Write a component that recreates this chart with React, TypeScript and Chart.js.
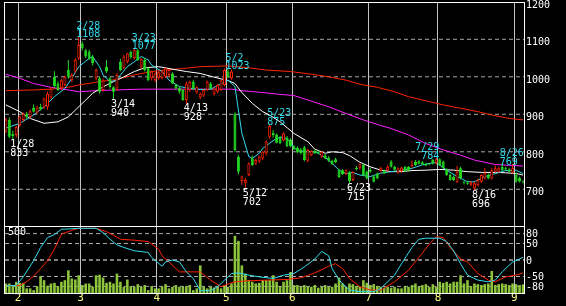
import React, { useEffect, useRef } from 'react';
import { Chart, registerables } from 'chart.js';

Chart.register(...registerables);

const FONT = "'DejaVu Sans Mono', monospace";

// ---- categories: trading days ----
const monthNumbers = [1, 2, 3, 4, 5, 6, 7, 8, 9];
const tradingDaysByMonth = [
  [26, 27, 28, 31],
  [1, 2, 3, 4, 7, 8, 9, 10, 14, 15, 16, 17, 18, 21, 22, 24, 25, 28],
  [1, 2, 3, 4, 7, 8, 9, 10, 11, 14, 15, 16, 17, 18, 22, 23, 24, 25, 28, 29, 30, 31],
  [1, 4, 5, 6, 7, 8, 11, 12, 13, 14, 15, 18, 19, 20, 21, 22, 25, 26, 27, 28],
  [2, 6, 9, 10, 11, 12, 13, 16, 17, 18, 19, 20, 23, 24, 25, 26, 27, 30, 31],
  [1, 2, 3, 6, 7, 8, 9, 10, 13, 14, 15, 16, 17, 20, 21, 22, 23, 24, 27, 28, 29, 30],
  [1, 4, 5, 6, 7, 8, 11, 12, 13, 14, 15, 19, 20, 21, 22, 25, 26, 27, 28, 29],
  [1, 2, 3, 4, 5, 8, 9, 10, 12, 15, 16, 17, 18, 19, 22, 23, 24, 25, 26, 29, 30, 31],
  [1, 2, 5],
];

// ---- OHLC ----
const opens = [854, 885, 848, 845, 871, 885, 900, 893, 918, 905, 920, 918, 920, 945, 1000, 982, 969, 978, 1018, 991, 1014, 1049,
  1089, 1071, 1067, 1054, 996, 996, 965, 1027, 996, 972, 969, 1040, 1023, 1040, 1067, 1050, 1071, 1027, 1045, 1023, 996, 991,
  996, 996, 1000, 1005, 1009, 978, 970, 965, 938, 965, 987, 958, 945, 950, 965, 982, 955, 960, 965, 978,
  1014, 996, 902, 787, 722, 716, 738, 782, 768, 774, 782, 796, 840, 850, 846, 838, 831, 838, 833,
  815, 811, 806, 812, 776, 791, 802, 800, 787, 791, 785, 776, 780, 751, 751, 741, 745, 725, 756, 756, 765, 747,
  752, 735, 742, 748, 750, 750, 774, 760, 745, 748, 760, 760, 762, 773, 775, 772, 768, 768, 778, 770,
  780, 774, 753, 738, 733, 720, 756, 718, 717, 712, 702, 711, 720, 729, 738, 729, 747, 747, 760, 756, 753, 745,
  738, 730, 720];
const highs = [890, 892, 856, 870, 896, 905, 906, 912, 926, 922, 928, 945, 960, 972, 1015, 988, 995, 1003, 1045, 1010, 1050, 1108,
  1095, 1075, 1072, 1058, 1022, 1000, 995, 1045, 1000, 975, 1010, 1048, 1058, 1064, 1070, 1077, 1074, 1050, 1050, 1026, 1016, 1012,
  1015, 1016, 1025, 1020, 1012, 982, 974, 968, 987, 990, 992, 975, 958, 968, 990, 986, 972, 980, 993, 1022,
  1023, 1020, 905, 792, 736, 730, 772, 790, 782, 790, 802, 831, 875, 858, 849, 842, 852, 842, 836,
  818, 815, 810, 816, 808, 804, 806, 804, 802, 794, 789, 779, 784, 755, 754, 753, 748, 748, 762, 769, 768, 750,
  758, 738, 745, 760, 753, 765, 778, 763, 758, 760, 763, 762, 776, 778, 778, 775, 771, 770, 781, 784,
  783, 777, 756, 742, 737, 762, 760, 722, 722, 722, 720, 728, 740, 757, 742, 756, 764, 760, 769, 760, 757, 768,
  745, 734, 724];
const lows = [850, 836, 833, 838, 866, 880, 888, 888, 905, 900, 910, 915, 912, 940, 970, 962, 965, 975, 995, 985, 1010, 1045,
  1070, 1050, 1045, 1030, 990, 955, 960, 1010, 968, 940, 962, 1015, 1020, 1036, 1048, 1046, 1042, 1022, 1015, 988, 990, 986,
  992, 993, 997, 1000, 980, 966, 955, 936, 928, 960, 965, 955, 940, 946, 962, 966, 950, 956, 962, 975,
  996, 992, 800, 740, 712, 702, 735, 762, 765, 770, 778, 790, 835, 838, 822, 820, 828, 812, 812,
  805, 796, 793, 775, 772, 788, 794, 795, 784, 780, 773, 765, 770, 730, 738, 738, 715, 722, 750, 752, 735, 726,
  744, 718, 727, 745, 740, 747, 758, 750, 742, 745, 746, 748, 758, 762, 766, 765, 762, 764, 766, 766,
  763, 755, 736, 723, 722, 717, 727, 713, 712, 708, 696, 708, 717, 726, 727, 726, 744, 744, 749, 751, 745, 742,
  718, 718, 716];
const closes = [886, 840, 842, 867, 894, 902, 893, 908, 907, 918, 914, 942, 955, 968, 975, 965, 991, 1000, 1000, 1005, 1045, 1085,
  1076, 1054, 1049, 1036, 1018, 960, 991, 1014, 972, 960, 1005, 1018, 1054, 1062, 1052, 1071, 1045, 1047, 1018, 991, 1014, 1009,
  1012, 1014, 1023, 1018, 982, 969, 960, 938, 982, 987, 969, 972, 955, 965, 987, 969, 969, 978, 991, 1018,
  998, 1014, 805, 747, 734, 725, 769, 765, 778, 787, 800, 827, 869, 845, 824, 822, 849, 815, 815,
  807, 798, 796, 778, 805, 802, 796, 797, 800, 782, 776, 767, 773, 733, 740, 751, 722, 746, 754, 767, 738, 729,
  747, 720, 729, 756, 742, 760, 760, 752, 756, 758, 748, 750, 765, 765, 768, 767, 763, 766, 769, 780,
  765, 756, 738, 725, 725, 747, 729, 716, 715, 718, 716, 725, 738, 744, 729, 751, 756, 756, 751, 753, 747, 756,
  720, 721, 718];

// ---- volume (x1000) ----
const volumes = [72, 72, 52, 85, 77, 77, 35, 35, 22, 52, 127, 97, 55, 72, 77, 52, 85, 97, 172, 110, 102, 134,
  60, 72, 72, 47, 134, 139, 117, 77, 85, 72, 147, 85, 47, 102, 52, 47, 67, 47, 60, 22, 52, 35,
  35, 47, 67, 35, 47, 60, 47, 47, 52, 60, 22, 35, 209, 47, 35, 47, 42, 47, 35, 60,
  47, 72, 433, 395, 209, 147, 97, 85, 72, 77, 97, 97, 97, 134, 85, 47, 85, 97, 159,
  60, 60, 47, 60, 47, 47, 60, 40, 47, 60, 47, 47, 72, 117, 72, 47, 72, 67, 52, 47, 97, 77,
  60, 67, 52, 47, 40, 47, 40, 47, 35, 35, 52, 47, 60, 72, 47, 60, 67, 47, 67, 47,
  85, 77, 85, 72, 85, 85, 134, 72, 97, 52, 72, 67, 60, 67, 72, 167, 60, 67, 72, 67, 60, 72,
  67, 60, 65];

// ---- moving averages: [day index, value] ----
const maShort: [number, number][] = [[0, 863], [4, 876], [8, 898], [11, 920], [14, 947], [17, 969], [19, 996], [21, 1027], [24, 1049], [25, 1054], [27, 1027], [28, 1005], [30, 987], [32, 991], [33, 1005], [35, 1027], [37, 1040], [39, 1054], [41, 1045], [42, 1031], [45, 1014], [47, 991], [50, 974], [53, 969], [56, 966], [59, 967], [64, 991], [66, 974], [67, 911], [68, 849], [70, 787], [71, 782], [73, 796], [74, 809], [76, 823], [78, 836], [80, 840], [82, 827], [83, 809], [86, 800], [89, 800], [91, 791], [93, 778], [96, 751], [98, 742], [100, 745], [102, 738], [105, 734], [108, 743], [111, 747], [114, 751], [117, 756], [120, 765], [122, 769], [124, 771], [127, 751], [130, 734], [133, 720], [135, 720], [138, 734], [141, 742], [144, 750], [147, 751], [149, 742]];
const maMid: [number, number][] = [[0, 925], [4, 907], [7, 889], [11, 876], [15, 880], [18, 893], [20, 911], [23, 938], [25, 956], [28, 973], [31, 987], [34, 1000], [37, 1014], [40, 1024], [44, 1027], [47, 1022], [52, 1014], [56, 1009], [60, 999], [64, 990], [66, 982], [68, 958], [71, 929], [74, 907], [76, 898], [79, 880], [83, 849], [87, 827], [89, 807], [92, 796], [94, 800], [97, 798], [99, 790], [102, 772], [105, 760], [108, 751], [111, 747], [114, 747], [117, 750], [121, 751], [125, 753], [129, 751], [133, 747], [137, 745], [141, 745], [144, 744], [147, 742], [149, 738]];
const maLong: [number, number][] = [[0, 1007], [4, 996], [8, 982], [13, 972], [18, 965], [21, 960], [26, 963], [32, 965], [39, 967], [46, 967], [56, 967], [65, 967], [68, 963], [74, 958], [79, 953], [83, 950], [88, 935], [93, 920], [98, 902], [103, 885], [107, 873], [111, 862], [116, 845], [121, 822], [126, 805], [131, 791], [135, 778], [138, 772], [141, 766], [145, 764], [149, 762]];
const maVeryLong: [number, number][] = [[0, 963], [8, 965], [13, 967], [18, 972], [21, 978], [27, 987], [32, 993], [37, 1005], [42, 1014], [46, 1018], [51, 1022], [56, 1027], [64, 1029], [70, 1024], [75, 1018], [82, 1014], [88, 1007], [93, 1000], [98, 991], [102, 980], [107, 972], [112, 960], [116, 947], [121, 936], [126, 925], [131, 916], [136, 907], [140, 898], [145, 889], [149, 885]];

// ---- oscillator (RCI) ----
const rciShort: [number, number][] = [[0, -78], [3, -77], [5, -51], [8, -2], [10, 38], [12, 68], [14, 77], [16, 93], [21, 96], [26, 96], [28, 83], [30, 63], [32, 46], [34, 38], [37, 28], [41, 23], [42, 8], [45, -19], [46, -6], [48, 0], [50, -6], [52, -36], [54, -56], [56, -93], [59, -93], [61, -81], [63, -61], [65, -41], [67, -39], [70, -46], [73, -51], [77, -56], [80, -46], [83, -41], [86, -21], [89, 3], [91, 26], [93, 13], [94, -26], [96, -61], [99, -91], [102, -96], [106, -96], [108, -86], [112, -46], [114, -11], [117, 38], [119, 63], [121, 66], [125, 66], [127, 56], [129, 28], [131, -11], [133, -46], [136, -61], [139, -66], [141, -61], [143, -36], [146, -6], [149, 8]];
const rciLong: [number, number][] = [[0, -77], [4, -77], [6, -66], [8, -49], [10, -26], [12, -2], [14, 33], [16, 78], [18, 86], [19, 90], [21, 96], [26, 96], [29, 86], [31, 75], [33, 63], [37, 60], [41, 56], [44, 33], [45, 13], [47, -6], [50, -36], [56, -36], [59, -61], [62, -81], [64, -73], [66, -66], [70, -63], [75, -61], [81, -59], [85, -54], [89, -39], [93, -19], [95, -11], [97, -26], [99, -56], [102, -81], [105, -91], [108, -91], [112, -66], [116, -31], [119, 8], [122, 48], [124, 71], [126, 68], [128, 38], [131, 3], [133, -6], [136, -41], [139, -61], [141, -66], [144, -51], [147, -46], [149, -39]];

// ---- annotations ----
const highDates = ['2/28', '3/23', '5/2', '5/23', '7/29', '8/26'];
const highValues = [1108, 1077, 1023, 875, 784, 769];
const lowDates = ['1/28', '3/14', '4/13', '5/12', '6/23', '8/16'];
const lowValues = [833, 940, 928, 702, 715, 696];

// ---- axis ticks ----
const priceTicks = [700, 800, 900, 1000, 1100, 1200];
const rciTicks = [-80, -50, 0, 50, 80];
const volumeTopLabel = '500';

// derived
const dates: string[] = [];
tradingDaysByMonth.forEach((days, m) => days.forEach((d) => dates.push(`${monthNumbers[m]}/${d}`)));
const monthStartIdx: number[] = [];
const monthTickLabels: string[] = [];
{
  let k = 0;
  tradingDaysByMonth.forEach((days, m) => {
    if (m > 0) {
      monthStartIdx.push(k);
      monthTickLabels.push(String(monthNumbers[m]));
    }
    k += days.length;
  });
}

const RED = '#ff2200';
const GREEN = '#22d822';
const CYAN = '#33dcee';
const GRID = '#a8a8a8';
const VGRID = '#c4c4c4';

const X_MIN = -0.25;
const X_MAX = 149.28;
const P_MIN = 602.1;
const P_MAX = 1196.8;

const toXY = (arr: [number, number][]) => arr.map(([x, y]) => ({ x, y }));
const isUp = (i: number) => closes[i] >= opens[i];

function xScale(showLabels: boolean, height: number) {
  return {
    type: 'linear' as const,
    min: X_MIN,
    max: X_MAX,
    offset: false,
    bounds: 'data' as const,
    afterBuildTicks: (s: any) => {
      s.ticks = monthStartIdx.map((i) => ({ value: i - 0.5 }));
    },
    afterFit: (s: any) => {
      s.height = height;
      s.paddingLeft = 0;
      s.paddingRight = 0;
      s.paddingTop = 0;
      s.paddingBottom = 0;
    },
    ticks: {
      display: showLabels,
      autoSkip: false,
      maxRotation: 0,
      color: '#ffff80',
      padding: 0,
      font: { family: FONT, size: 11, lineHeight: 1 },
      callback: (_v: any, idx: number) => monthTickLabels[idx],
    },
    grid: { color: VGRID, lineWidth: 1, drawTicks: false, offset: false },
    border: { display: false },
  };
}

function yAxisBase(ticksList: number[], labelOffset: number) {
  return {
    type: 'linear' as const,
    position: 'right' as const,
    bounds: 'data' as const,
    afterBuildTicks: (s: any) => {
      s.ticks = ticksList.map((v) => ({ value: v }));
    },
    afterFit: (s: any) => {
      s.width = 42;
      s.paddingTop = 0;
      s.paddingBottom = 0;
      s.paddingLeft = 0;
      s.paddingRight = 0;
    },
    ticks: {
      color: '#ffffff',
      padding: 2,
      autoSkip: false,
      labelOffset,
      font: { family: FONT, size: 10 },
      callback: (v: any) => String(v),
    },
    grid: { display: false, drawTicks: false },
    border: { display: false },
  };
}

// horizontal dashed reference line drawn by the library itself
const refLine = (v: number, color: string) => ({
  type: 'line' as const,
  data: [
    { x: X_MIN, y: v },
    { x: X_MAX, y: v },
  ],
  borderColor: color,
  borderWidth: 1,
  borderDash: [4, 3],
  pointRadius: 0,
  fill: false,
  order: 20,
  yAxisID: 'y',
});

const makeFramePlugin = (id: string) => ({
  id,
  afterDraw(chart: any) {
    const { ctx, chartArea: a } = chart;
    ctx.save();
    ctx.strokeStyle = '#ffffff';
    ctx.lineWidth = 1;
    ctx.setLineDash([]);
    ctx.strokeRect(a.left - 0.5, a.top - 0.5, a.right - a.left + 1, a.bottom - a.top + 1);
    ctx.restore();
  },
});

const extremesPlugin = {
  id: 'extremes',
  afterDatasetsDraw(chart: any) {
    const { ctx } = chart;
    const xs = chart.scales.x;
    const ys = chart.scales.y;
    ctx.save();
    ctx.font = `10px ${FONT}`;
    ctx.textBaseline = 'alphabetic';
    highDates.forEach((d, k) => {
      const i = dates.indexOf(d);
      const px = xs.getPixelForValue(i);
      const py = ys.getPixelForValue(highValues[k]);
      const right = px > 420 && px < 440;
      ctx.textAlign = right ? 'right' : 'left';
      const tx = right ? px + 3 : px - 2.5;
      ctx.fillStyle = CYAN;
      ctx.fillText(d, tx, py - 7.3);
      ctx.fillText(String(highValues[k]), tx, py + 1.2);
    });
    lowDates.forEach((d, k) => {
      const i = dates.indexOf(d);
      const px = xs.getPixelForValue(i);
      const py = ys.getPixelForValue(lowValues[k]);
      ctx.textAlign = 'left';
      ctx.fillStyle = '#ffffff';
      ctx.fillText(d, px - 2.5, py + 7.5);
      ctx.fillText(String(lowValues[k]), px - 2.5, py + 16.6);
    });
    ctx.restore();
  },
};

const volLabelPlugin = {
  id: 'volLabel',
  afterDraw(chart: any) {
    const { ctx, chartArea: a } = chart;
    ctx.save();
    ctx.font = `10px ${FONT}`;
    ctx.fillStyle = '#ffffff';
    ctx.textAlign = 'left';
    ctx.textBaseline = 'alphabetic';
    ctx.fillText(volumeTopLabel, a.left + 3, a.top + 8);
    ctx.restore();
  },
};

const lineDs = (data: [number, number][], color: string, order: number, yAxisID = 'y') => ({
  type: 'line' as const,
  data: toXY(data),
  borderColor: color,
  borderWidth: 1,
  pointRadius: 0,
  tension: 0,
  fill: false,
  order,
  yAxisID,
});

export default function App() {
  const mainRef = useRef<HTMLCanvasElement>(null);
  const subRef = useRef<HTMLCanvasElement>(null);

  useEffect(() => {
    document.documentElement.style.background = '#000';
    document.body.style.margin = '0';
    document.body.style.background = '#000';

    const idx = dates.map((_, i) => i);

    const main = new Chart(mainRef.current as HTMLCanvasElement, {
      type: 'bar',
      data: {
        datasets: [
          {
            type: 'bar',
            data: idx.map((i) => ({ x: i, y: [opens[i], closes[i]] })) as any,
            backgroundColor: (c: any) => (isUp(c.dataIndex) ? '#000000' : GREEN),
            borderColor: (c: any) => (isUp(c.dataIndex) ? RED : GREEN),
            borderWidth: 1,
            borderSkipped: false,
            barThickness: 3,
            minBarLength: 1,
            grouped: false,
            inflateAmount: 0,
            order: 0,
          } as any,
          {
            type: 'bar',
            data: idx.map((i) => ({ x: i, y: [lows[i], highs[i]] })) as any,
            backgroundColor: (c: any) => (isUp(c.dataIndex) ? RED : GREEN),
            borderWidth: 0,
            barThickness: 1,
            grouped: false,
            inflateAmount: 0,
            order: 1,
          } as any,
          lineDs(maShort, CYAN, 2),
          lineDs(maMid, '#ffffff', 3),
          lineDs(maLong, '#ff20ff', 4),
          lineDs(maVeryLong, RED, 5),
          ...priceTicks.filter((v) => v > P_MIN && v < P_MAX).map((v) => refLine(v, GRID)),
        ] as any,
      },
      options: {
        responsive: false,
        animation: false,
        devicePixelRatio: 1,
        events: [],
        layout: { padding: { left: 5, top: 3, right: 0, bottom: 0 } },
        plugins: { legend: { display: false }, tooltip: { enabled: false } },
        scales: {
          x: xScale(false, 0) as any,
          y: { ...yAxisBase(priceTicks, 3.5), min: P_MIN, max: P_MAX } as any,
        },
      },
      plugins: [makeFramePlugin('mainFrame'), extremesPlugin],
    });

    const sub = new Chart(subRef.current as HTMLCanvasElement, {
      type: 'bar',
      data: {
        datasets: [
          {
            type: 'bar',
            data: idx.map((i) => ({ x: i, y: volumes[i] })) as any,
            backgroundColor: '#8cc43c',
            borderWidth: 0,
            barThickness: 2.6,
            grouped: false,
            inflateAmount: 0,
            yAxisID: 'yv',
            order: 3,
          } as any,
          lineDs(rciLong, RED, 2),
          lineDs(rciShort, CYAN, 1),
          ...rciTicks.map((v) => refLine(v, v === 0 ? '#ffffff' : GRID)),
        ] as any,
      },
      options: {
        responsive: false,
        animation: false,
        devicePixelRatio: 1,
        events: [],
        layout: { padding: { left: 5, top: 1, right: 0, bottom: 0 } },
        plugins: { legend: { display: false }, tooltip: { enabled: false } },
        scales: {
          x: xScale(true, 13) as any,
          y: { ...yAxisBase(rciTicks, 1), min: -100, max: 100 } as any,
          yv: { type: 'linear', display: false, min: 0, max: 500 } as any,
        },
      },
      plugins: [makeFramePlugin('subFrame'), volLabelPlugin],
    });

    return () => {
      main.destroy();
      sub.destroy();
    };
  }, []);

  return (
    <div style={{ position: 'fixed', left: 0, top: 0, width: 566, height: 306, background: '#000' }}>
      <canvas
        ref={mainRef}
        width={566}
        height={226}
        style={{ position: 'absolute', left: 0, top: 0, width: 566, height: 226, display: 'block' }}
      />
      <canvas
        ref={subRef}
        width={566}
        height={80}
        style={{ position: 'absolute', left: 0, top: 226, width: 566, height: 80, display: 'block' }}
      />
    </div>
  );
}
